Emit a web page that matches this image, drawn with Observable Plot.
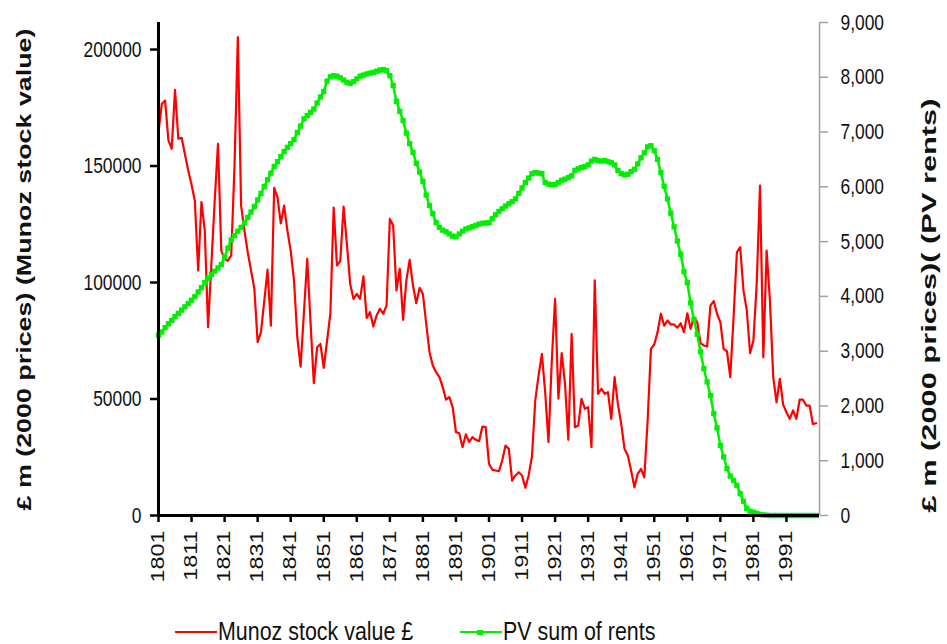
<!DOCTYPE html>
<html>
<head>
<meta charset="utf-8">
<script src="https://cdn.jsdelivr.net/npm/d3@7"></script>
<script src="https://cdn.jsdelivr.net/npm/@observablehq/plot@0.6"></script>
<style>
  html, body { margin: 0; padding: 0; background: #fff; }
  #wrap { width: 947px; height: 644px; position: relative; overflow: hidden; font-family: "Liberation Sans", Arial, sans-serif; }
  #legend { position: relative; width: 947px; height: 44px; }
  .lg-line { position: absolute; height: 2px; }
  .lg-text { position: absolute; font-size: 25.5px; line-height: 1; white-space: nowrap; color: #111;
             transform: translateY(-50%) scaleX(0.84); transform-origin: left center; }
  .lg-mark { position: absolute; width: 6px; height: 5px; background: #00ee00; }
</style>
</head>
<body>
<div id="wrap"></div>
<script>
// ---------- data ----------
const startYear = 1801;
// Munoz stock value, £ thousand m (2000 prices) -> multiplied by 1000 below; one value per year 1801..2000
const munozThousands = [
  164.5,176.7,178.1,161.0,157.4,182.7,161.7,162.1,155,148.1,
  142,135,105.2,134.5,122.3,80.8,108,135,159.5,113.7,
  110,109.4,111.6,150,205.3,133,122.3,113,105.2,97.3,
  74.4,78.7,92,105.5,81.5,140.6,136.6,125.4,133,122.3,
  113.7,100.9,76.5,63.9,87,110.2,83,56.8,72.2,73.6,
  63.4,75,86.6,132.1,107.3,109.2,132.6,116.6,99.4,93,
  95.1,93,102.6,84.8,87.3,81.1,85.8,88.7,86.6,90.1,
  127.3,124.5,96.6,105.9,84,100.9,109.7,98.7,91.1,97.7,
  95.1,82.3,70.1,64.4,61.5,59.4,55.1,49.7,50.8,46.5,
  35.8,35.3,29.3,34.8,31.5,33.6,32.5,31.9,38.2,37.9,
  22.2,19.6,19.3,19.0,23.6,30,28.6,15,17.2,18.6,
  17.2,11.9,17.2,25.3,49.4,60,69.4,52.9,31.5,66.5,
  93,50.1,69.7,56.5,32.5,78,37.9,38.6,50.1,45.8,
  46.5,29.3,100.9,52.2,54.4,52.2,52.9,41.5,59.4,47.9,
  39.3,28.6,25.8,19.3,12.1,17.9,20,16.4,40.8,71.5,
  73.4,78.7,86.6,81.5,83.7,82,82,80.6,82.5,78.7,
  86.8,80.1,85.1,83,74,73,72.5,90.1,92,86.6,
  83,71.5,70.5,59.4,85.1,113,115.2,96.6,88,69.7,
  75.1,99.4,141.6,67.9,113.7,92.3,59.4,48.6,58.7,47.6,
  44.3,41.5,45.1,41.5,49.7,49.7,47.2,47.2,39.3,39.6
];
// PV sum of rents, £ m (2000 prices), one value per year 1801..2000
const pvRents = [
  3290,3350,3430,3500,3560,3630,3690,3750,3810,3870,
  3930,3995,4080,4160,4250,4330,4400,4460,4520,4580,
  4720,4880,5030,5110,5190,5260,5340,5440,5540,5640,
  5760,5880,6005,6130,6250,6370,6460,6550,6645,6720,
  6790,6860,6990,7110,7240,7300,7360,7420,7530,7640,
  7740,7930,8010,8030,8020,7990,7950,7910,7890,7920,
  7970,8020,8040,8060,8075,8090,8110,8130,8140,8120,
  8030,7850,7560,7380,7210,6980,6790,6630,6430,6270,
  6100,5850,5660,5510,5350,5260,5210,5180,5140,5100,
  5090,5140,5190,5230,5250,5275,5295,5320,5335,5340,
  5345,5420,5490,5550,5600,5650,5690,5730,5780,5880,
  5980,6080,6160,6240,6260,6250,6240,6080,6050,6040,
  6040,6080,6120,6140,6170,6200,6300,6330,6350,6370,
  6400,6470,6500,6480,6470,6480,6460,6440,6400,6300,
  6240,6220,6230,6280,6320,6420,6530,6620,6730,6750,
  6660,6500,6260,6010,5780,5520,5270,5010,4770,4450,
  4250,3880,3580,3310,2990,2680,2440,2190,1860,1600,
  1280,1070,860,720,640,550,400,260,130,80,
  60,40,20,10,5,0,0,0,0,0,
  0,0,0,0,0,0,0,0,0,0
];
const xTickYears = [1801,1811,1821,1831,1841,1851,1861,1871,1881,1891,1901,1911,1921,1931,1941,1951,1961,1971,1981,1991];
const leftTicks = [0, 50000, 100000, 150000, 200000];
const rightTicks = [0,1000,2000,3000,4000,5000,6000,7000,8000,9000];
const leftTitle = "£ m (2000 prices) (Munoz stock value)";
const rightTitle = "£ m (2000 prices)( (PV rents)";
const seriesNames = ["Munoz stock value £", "PV sum of rents"];

// ---------- build ----------
const YMAX = 211600;          // left axis top
const RMAX = 9000;            // right axis top
const k = YMAX / RMAX;

const red = munozThousands.map((v, i) => ({year: startYear + i, value: v * 1000}));
const green = pvRents.map((v, i) => ({year: startYear + i, value: v * k}));

const chart = Plot.plot({
  width: 947,
  height: 600,
  marginLeft: 158,
  marginRight: 128,
  marginTop: 22,
  marginBottom: 85,
  x: {domain: [1801, 2001]},
  y: {domain: [0, YMAX]},
  style: {fontFamily: "'Liberation Sans', Arial, sans-serif", background: "#fff", color: "#111"},
  marks: [
    Plot.line(red, {x: "year", y: "value", stroke: "#ff0000", strokeWidth: 2.2}),
    Plot.line(green, {x: "year", y: "value", stroke: "#00ee00", strokeWidth: 2.5}),
    Plot.dot(green, {x: "year", y: "value", symbol: "square", r: 3, fill: "#00ee00", stroke: "none"}),
    Plot.ruleX([2001], {stroke: "#a0a0a0", strokeWidth: 1.5}),
    Plot.axisY({anchor: "right", ticks: rightTicks.map(v => v * k), tickFormat: d => d3.format(",")(Math.round(d / k)),
      tickSize: 8, tickPadding: 13, fontSize: 22, stroke: "#a0a0a0", strokeWidth: 1.5, fill: "#111", label: null}),
    Plot.axisY({anchor: "left", ticks: leftTicks, tickFormat: d => String(d),
      tickSize: 8, tickPadding: 9, fontSize: 22, stroke: "#000", strokeWidth: 2.5, fill: "#111", label: null}),
    Plot.axisX({ticks: xTickYears, tickFormat: d => String(d), tickRotate: -90,
      tickSize: 7, tickPadding: 8, fontSize: 18, stroke: "#000", strokeWidth: 2.5, fill: "#111", label: null}),
    Plot.ruleX([1801], {stroke: "#000", strokeWidth: 3}),
    Plot.ruleY([0], {stroke: "#000", strokeWidth: 3}),
    Plot.text([leftTitle], {frameAnchor: "bottom-left", dx: -128, dy: -5, rotate: -90, textAnchor: "start",
      fontSize: 20.5, fontWeight: "bold", fill: "#111"}),
    Plot.text([rightTitle], {frameAnchor: "bottom-right", dx: 116, dy: -3, rotate: -90, textAnchor: "start",
      fontSize: 20.5, fontWeight: "bold", fill: "#111"})
  ]
});

const wrap = document.getElementById("wrap");
wrap.append(chart);

// legend (HTML, below the SVG)
const legend = document.createElement("div");
legend.id = "legend";
legend.innerHTML = `
  <div class="lg-line" style="left:175px; top:31px; width:42px; background:#ff0000;"></div>
  <div class="lg-text" style="left:218px; top:32px;">${seriesNames[0]}</div>
  <div class="lg-line" style="left:460px; top:31px; width:42px; background:#00ee00;"></div>
  <div class="lg-mark" style="left:477px; top:29.5px;"></div>
  <div class="lg-text" style="left:503px; top:32px;">${seriesNames[1]}</div>`;
wrap.append(legend);

// condense / stretch text to imitate the reference's proportions
function adjust(sel, factor) {
  chart.querySelectorAll(sel).forEach(t => {
    const n = t.getComputedTextLength();
    t.setAttribute("textLength", (n * factor).toFixed(1));
    t.setAttribute("lengthAdjust", "spacingAndGlyphs");
  });
}
adjust('g[aria-label="y-axis tick label"] text', 0.79);
adjust('g[aria-label="x-axis tick label"] text', 1.3);
chart.querySelectorAll('g[aria-label="text"] text').forEach(t => {
  const len = t.textContent === leftTitle ? 482 : 414;
  t.setAttribute("textLength", len);
  t.setAttribute("lengthAdjust", "spacingAndGlyphs");
});
</script>
</body>
</html>
